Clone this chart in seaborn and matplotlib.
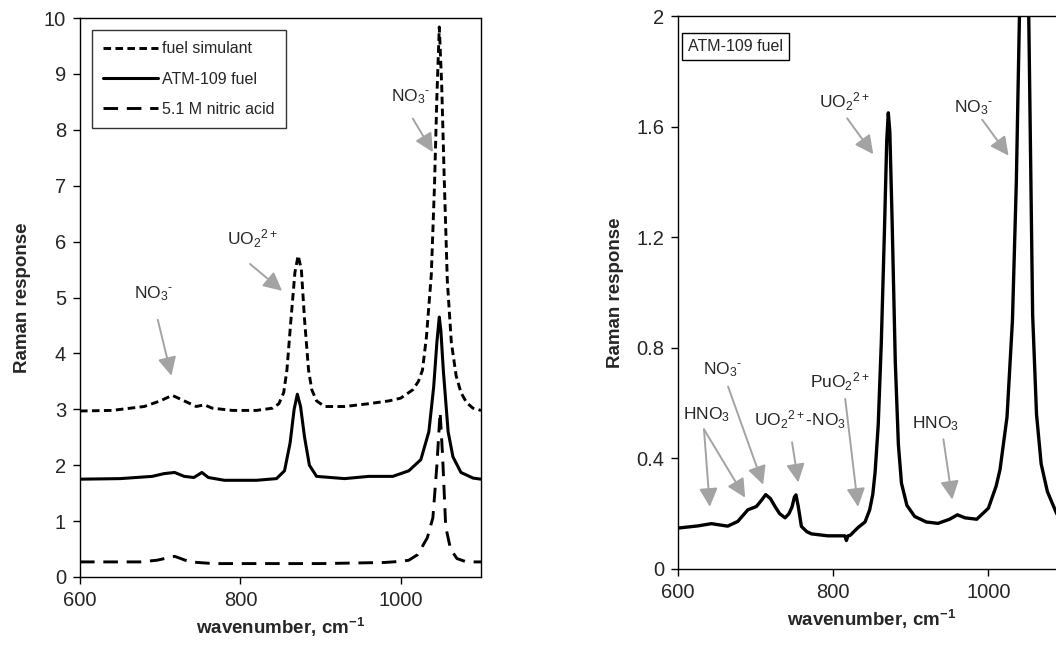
import numpy as np
import pandas as pd
import matplotlib
matplotlib.use("Agg")
import matplotlib.pyplot as plt
import seaborn as sns

# ---------------- data ----------------
sim_x = [600, 640, 680, 700, 715, 730, 745, 755, 765, 790, 820, 840, 848, 854, 858,
         863, 868, 872, 876, 880, 885, 889, 895, 905, 930, 960, 985, 1000, 1015, 1022,
         1027, 1032, 1038, 1042, 1045, 1048, 1051, 1054, 1058, 1063, 1069, 1075, 1082,
         1090, 1100]
sim_y = [2.97, 2.98, 3.05, 3.15, 3.25, 3.15, 3.05, 3.08, 3.02, 2.98, 2.98, 3.02, 3.1, 3.3, 3.7,
         4.6, 5.45, 5.75, 5.5, 4.6, 3.7, 3.35, 3.15, 3.05, 3.05, 3.1, 3.15, 3.2, 3.35, 3.5,
         3.7, 4.3, 5.4, 7.0, 8.6, 9.84, 8.8, 7.2, 5.3, 4.2, 3.6, 3.3, 3.12,
         3.02, 2.98]

atm_x = [600, 650, 690, 705, 718, 730, 742, 752, 760, 780, 820, 845, 855, 862, 867,
         871, 875, 880, 886, 895, 930, 960, 990, 1010, 1025, 1035, 1041, 1045, 1048,
         1050, 1053, 1059, 1065, 1075, 1090, 1100]
atm_y = [1.75, 1.76, 1.8, 1.85, 1.87, 1.8, 1.78, 1.87, 1.78, 1.73, 1.73, 1.76, 1.9, 2.4, 3.0,
         3.27, 3.05, 2.5, 2.0, 1.8, 1.76, 1.8, 1.8, 1.9, 2.1, 2.6, 3.4, 4.2, 4.65,
         4.4, 3.7, 2.6, 2.15, 1.87, 1.77, 1.75]

hno3_x = [600, 640, 675, 696, 718, 737, 766, 800, 900, 980, 1000, 1010, 1021, 1033, 1040,
          1045, 1049, 1052, 1056, 1062, 1070, 1080, 1090, 1100]
hno3_y = [0.27, 0.27, 0.27, 0.3, 0.37, 0.27, 0.24, 0.24, 0.24, 0.26, 0.28, 0.3, 0.4, 0.7, 1.06,
          2.0, 2.95, 2.2, 0.9, 0.5, 0.33, 0.28, 0.27, 0.27]

# right panel: ATM-109 fuel, expanded scale
fuel_x = [600, 626, 643, 664, 677, 690, 701, 708, 713, 719, 725, 731, 738, 743, 747,
          750, 752, 755, 759, 766, 772, 793, 810, 815, 817, 819, 822, 832, 841, 847,
          851, 854, 858, 862, 866, 869, 871, 873, 876, 880, 884, 888, 895, 905, 920, 935,
          950, 960, 970, 985, 1000, 1010, 1015, 1024, 1031, 1036, 1040, 1043, 1047, 1050,
          1052, 1057, 1062, 1068, 1076, 1088, 1100]
fuel_y = [0.148, 0.156, 0.164, 0.155, 0.172, 0.214, 0.226, 0.25, 0.269, 0.255, 0.226, 0.2, 0.185, 0.2, 0.225,
          0.26, 0.268, 0.226, 0.154, 0.135, 0.127, 0.12, 0.12, 0.12, 0.103, 0.12, 0.122, 0.15, 0.17, 0.214,
          0.27, 0.35, 0.52, 0.82, 1.22, 1.55, 1.65, 1.58, 1.25, 0.75, 0.45, 0.31, 0.23, 0.19, 0.17, 0.165,
          0.18, 0.196, 0.185, 0.18, 0.22, 0.3, 0.36, 0.55, 0.9, 1.4, 2.0, 2.6, 3.15, 2.6,
          2.0, 0.92, 0.56, 0.38, 0.28, 0.2, 0.17]

series_labels = ["fuel simulant", "ATM-109 fuel", "5.1 M nitric acid"]
left_yticks = [0, 1, 2, 3, 4, 5, 6, 7, 8, 9, 10]
right_yticks = [0, 0.4, 0.8, 1.2, 1.6, 2.0]
right_ytick_labels = ["0", "0.4", "0.8", "1.2", "1.6", "2"]
xticks = [600, 800, 1000]

# ---------------- style ----------------
sns.set_theme(style="white")
plt.rcParams["font.family"] = ["Liberation Sans", "DejaVu Sans"]
plt.rcParams["mathtext.fontset"] = "custom"
plt.rcParams["mathtext.rm"] = "Liberation Sans"
plt.rcParams["mathtext.it"] = "Liberation Sans:italic"
plt.rcParams["mathtext.bf"] = "Liberation Sans:bold"

W, H = 1056, 652
fig = plt.figure(figsize=(W / 100, H / 100), dpi=100)

def px_axes(x0, x1, y_top, y_bot):
    return fig.add_axes([x0 / W, 1 - y_bot / H, (x1 - x0) / W, (y_bot - y_top) / H])

axL = px_axes(80, 481, 18, 577)
axR = px_axes(678, 1066, 16, 569)

df_sim = pd.DataFrame({"x": sim_x, "y": sim_y})
df_atm = pd.DataFrame({"x": atm_x, "y": atm_y})
df_hno3 = pd.DataFrame({"x": hno3_x, "y": hno3_y})
df_fuel = pd.DataFrame({"x": fuel_x, "y": fuel_y})

sns.lineplot(data=df_sim, x="x", y="y", ax=axL, color="black", lw=2.1,
             sort=False, label=series_labels[0]).lines[-1].set_dashes((2.6, 1.5))
sns.lineplot(data=df_atm, x="x", y="y", ax=axL, color="black", lw=2.2, sort=False,
             label=series_labels[1])
sns.lineplot(data=df_hno3, x="x", y="y", ax=axL, color="black", lw=2.1, sort=False,
             label=series_labels[2]).lines[-1].set_dashes((5, 3))

sns.lineplot(data=df_fuel, x="x", y="y", ax=axR, color="black", lw=2.4, sort=False)

tick_fs = 14.5
lab_fs = 13.5
for ax in (axL, axR):
    ax.set_xlim(600, 1100)
    ax.set_xticks(xticks)
    ax.set_xticklabels([str(t) for t in xticks], fontsize=tick_fs)
    ax.set_xlabel(r"wavenumber, cm$^{\mathbf{-1}}$", fontsize=lab_fs, fontweight="bold", labelpad=4)
    ax.set_ylabel("Raman response", fontsize=lab_fs, fontweight="bold", labelpad=9)
    ax.tick_params(axis="both", direction="out", length=5, width=1, color="black",
                   bottom=True, left=True, pad=5)
    for s in ax.spines.values():
        s.set_color("black")
        s.set_linewidth(1.0)

axL.set_ylim(0, 10)
axL.set_yticks(left_yticks)
axL.set_yticklabels([str(t) for t in left_yticks], fontsize=tick_fs)

axR.set_ylim(0, 2)
axR.set_yticks(right_yticks)
axR.set_yticklabels(right_ytick_labels, fontsize=tick_fs)

leg = axL.legend(loc="upper left", bbox_to_anchor=(0.03, 0.978), borderaxespad=0,
                 frameon=True, fancybox=False, edgecolor="black", fontsize=11.5,
                 handlelength=3.4, labelspacing=0.95, handletextpad=0.3,
                 borderpad=0.7)
leg.get_frame().set_linewidth(1.0)

arrow_kw = dict(arrowstyle="-|>,head_length=0.7,head_width=0.35", color="#a3a3a3",
                lw=1.4, shrinkA=0, shrinkB=0, mutation_scale=16)
ann_fs = 12.5

def note(ax, text, xy_text, tips):
    ax.text(xy_text[0], xy_text[1], text, fontsize=ann_fs, ha="center", va="center")
    for start, tip in tips:
        ax.annotate("", xy=tip, xytext=start, arrowprops=arrow_kw)

NO3 = r"NO$_3$$^{\text{-}}$"
UO2 = r"UO$_2$$^{2+}$"

# left panel notes
note(axL, NO3, (692, 5.07), [((697, 4.6), (714, 3.6))])
note(axL, UO2, (815, 6.05), [((812, 5.6), (852, 5.12))])
note(axL, NO3, (1012, 8.6), [((1015, 8.2), (1040, 7.6))])

# right panel notes
axR.text(613, 1.89, "ATM-109 fuel", fontsize=11.5, ha="left", va="center",
         bbox=dict(boxstyle="square,pad=0.4", fc="white", ec="black", lw=1.0))
note(axR, UO2, (815, 1.69), [((818, 1.63), (851.6, 1.50))])
note(axR, NO3, (981, 1.67), [((992, 1.625), (1026, 1.495))])
note(axR, NO3, (657, 0.72), [((664.5, 0.66), (709.7, 0.305))])
note(axR, r"HNO$_3$", (637, 0.56), [((633.5, 0.505), (641, 0.225)),
                                    ((633.5, 0.505), (686.5, 0.258))])
note(axR, r"UO$_2$$^{2+}$-NO$_3$", (757, 0.54), [((747, 0.458), (755, 0.313))])
note(axR, r"PuO$_2$$^{2+}$", (809, 0.676), [((815.5, 0.615), (832, 0.225))])
note(axR, r"HNO$_3$", (931.6, 0.524), [((942, 0.469), (953.5, 0.251))])

fig.savefig("out.png", dpi=100)
